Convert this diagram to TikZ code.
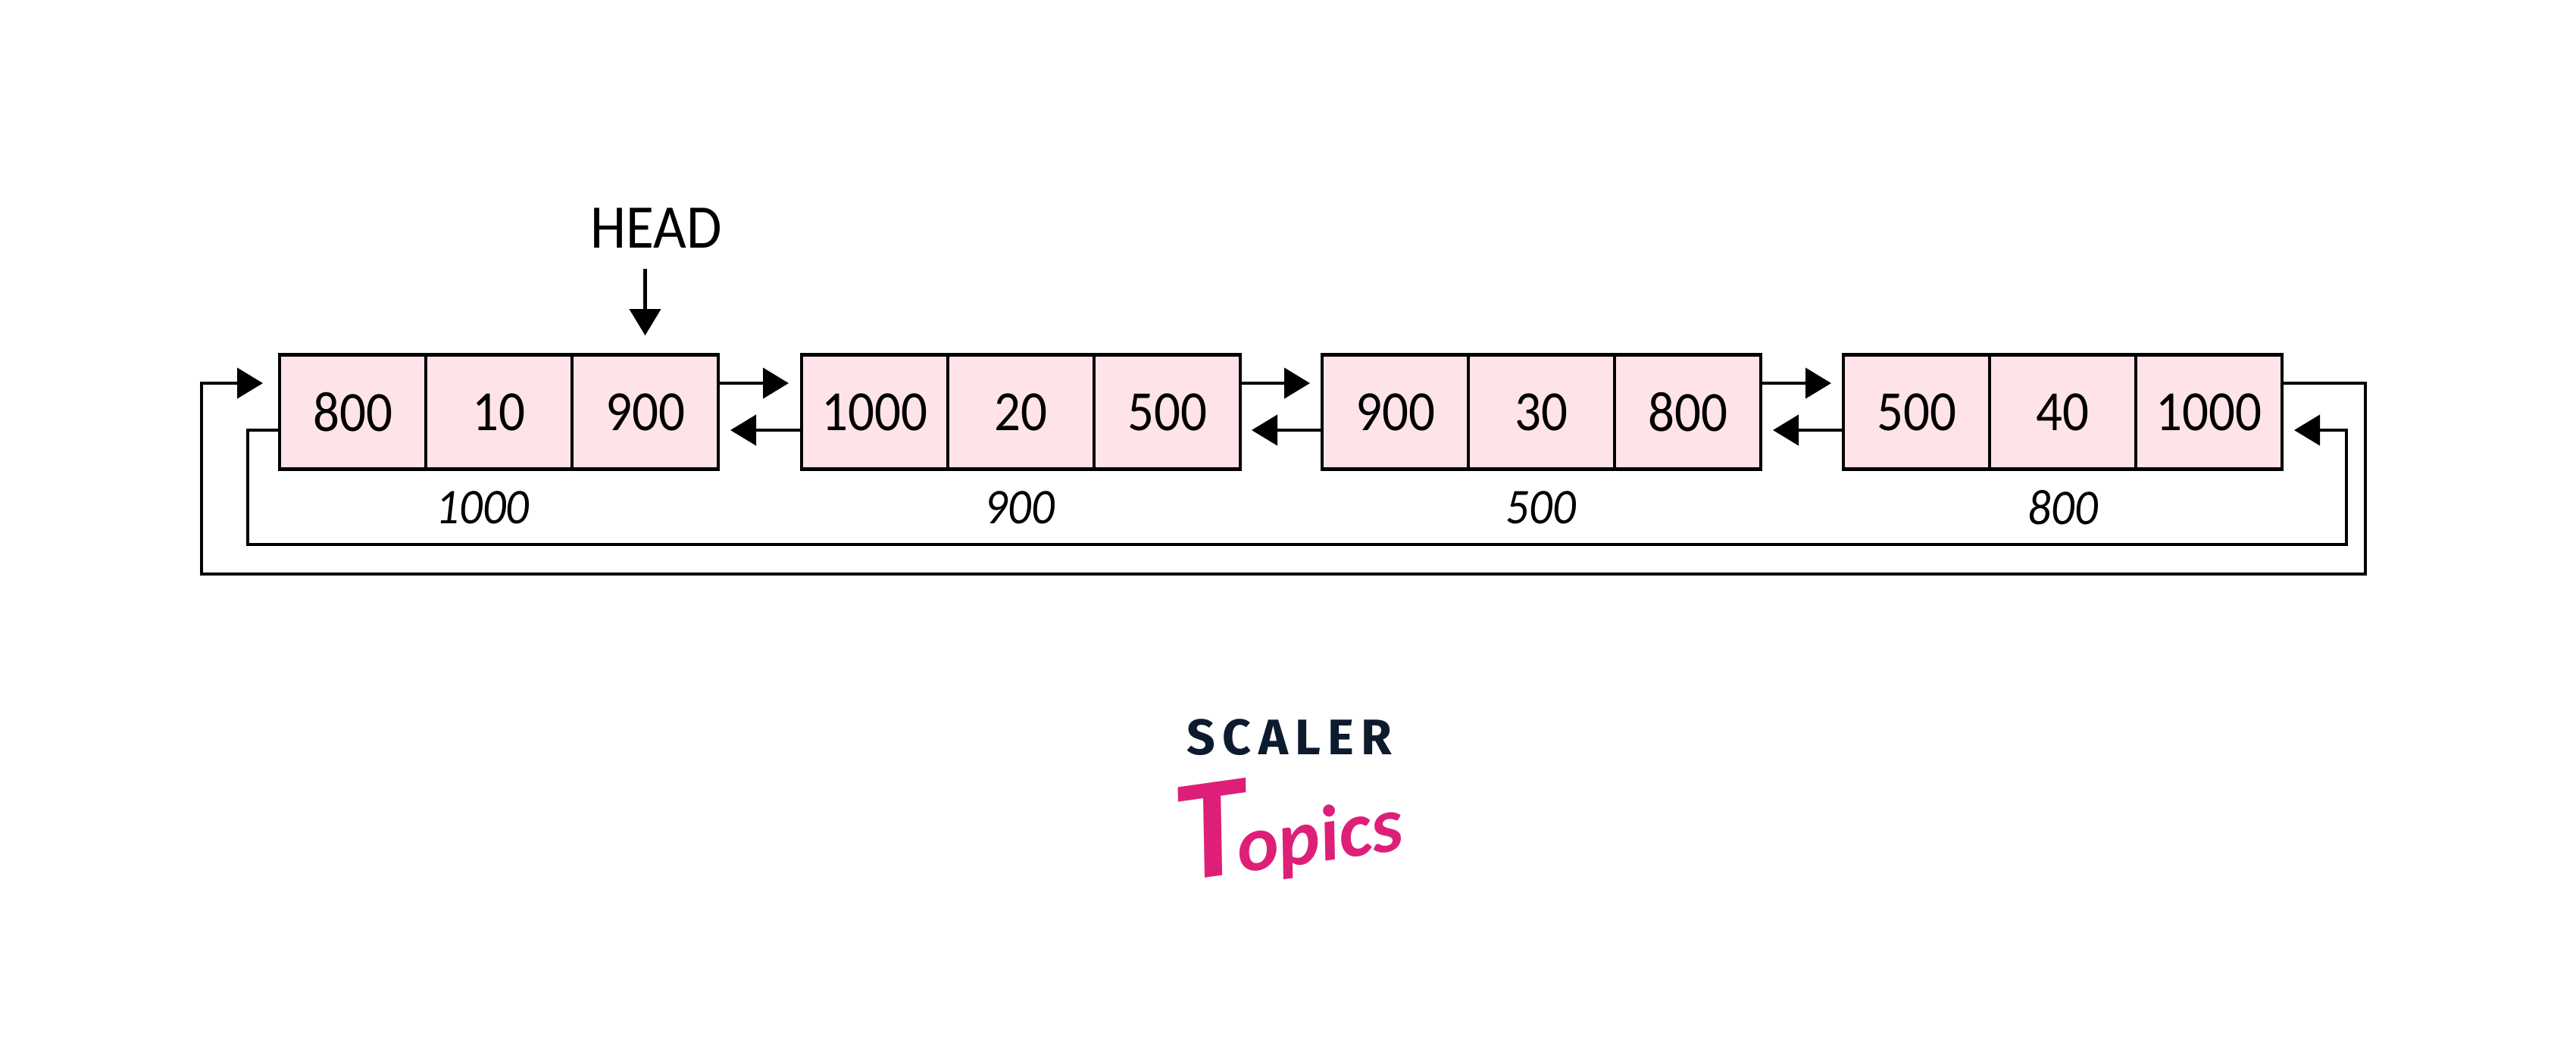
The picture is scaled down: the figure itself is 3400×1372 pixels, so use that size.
\documentclass[tikz,border=0pt]{standalone}
\usepackage{fontspec}
\setmainfont{Carlito}[FakeStretch=0.92]
\newfontfamily\logofont{Fira Sans}[LetterSpace=14,BoldFont={Fira Sans Bold}]
\newfontfamily\topicsfont{Carlito}
\usetikzlibrary{arrows.meta}
\definecolor{cellpink}{HTML}{FEE4E9}
\definecolor{logonavy}{HTML}{0D1B2E}
\definecolor{logopink}{HTML}{DE1F78}
\tikzset{
  cell/.style={draw=black,line width=4.5pt,fill=cellpink,minimum width=193pt,minimum height=151pt,inner sep=0pt,outer sep=0pt,font=\fontsize{75}{75}\selectfont},
  addr/.style={font=\fontsize{66}{66}\selectfont\itshape,inner sep=0pt},
  wire/.style={line width=4.5pt,line cap=butt,miter limit=10},
  arrowed/.style={wire,-{Triangle[length=34pt,width=40pt]}},
  headlabel/.style={font=\fontsize{82}{82}\selectfont,inner sep=0pt}
}
\begin{document}
\begin{tikzpicture}[x=1pt,y=-1pt]
\useasboundingbox (0,0) rectangle (3400,1372);
% cells
\node[cell] (a1) at (465.5,544) {800};
\node[cell] (b1) at (658.5,544) {10};
\node[cell] (c1) at (851.5,544) {900};
\node[cell] (a2) at (1154.5,544) {1000};
\node[cell] (b2) at (1347.5,544) {20};
\node[cell] (c2) at (1540.5,544) {500};
\node[cell] (a3) at (1841.5,544) {900};
\node[cell] (b3) at (2034.5,544) {30};
\node[cell] (c3) at (2227.5,544) {800};
\node[cell] (a4) at (2529.5,544) {500};
\node[cell] (b4) at (2722.5,544) {40};
\node[cell] (c4) at (2915.5,544) {1000};
% labels
\node[addr] (l1) at (637,670) {1000};
\node[addr] (l2) at (1346,670) {900};
\node[addr] (l3) at (2034,670) {500};
\node[addr] (l4) at (2723,670) {800};
\node[headlabel] (head) at (866,301) {HEAD};
% free ends
\coordinate (headstart) at (851.5,355);
\coordinate (headtip) at (851.5,443);
\coordinate (f1) at (1041,506);
\coordinate (f2) at (1729,506);
\coordinate (f3) at (2417,506);
\coordinate (r1) at (964,568);
\coordinate (r2) at (1652,568);
\coordinate (r3) at (2340,568);
\coordinate (ltip) at (347,506);
\coordinate (rtip) at (3028,568);
% connectors
\draw[wire,-{Triangle[length=35pt,width=41pt]}] (headstart) -- (headtip);
\draw[arrowed] (c1.east |- f1) -- (f1);
\draw[arrowed] (c2.east |- f2) -- (f2);
\draw[arrowed] (c3.east |- f3) -- (f3);
\draw[arrowed] (a2.west |- r1) -- (r1);
\draw[arrowed] (a3.west |- r2) -- (r2);
\draw[arrowed] (a4.west |- r3) -- (r3);
\draw[arrowed] (c4.east |- ltip) -- (3122,506) -- (3122,758) -- (266,758) -- (266,506) -- (ltip);
\draw[arrowed] (a1.west |- rtip) -- (327,568) -- (327,719) -- (3097,719) -- (3097,568) -- (rtip);
% logo
\node[inner sep=0pt,text=logonavy,font=\logofont\bfseries\fontsize{66}{66}\selectfont] (scaler) at (1702,974) {SCALER};
\node[inner sep=0pt,text=logopink,rotate=8,font=\topicsfont\itshape\bfseries\fontsize{104}{104}\selectfont] (topics) at (1700,1090) {{\fontsize{190}{190}\selectfont T}\kern-16pt opics};
\end{tikzpicture}
\end{document}
